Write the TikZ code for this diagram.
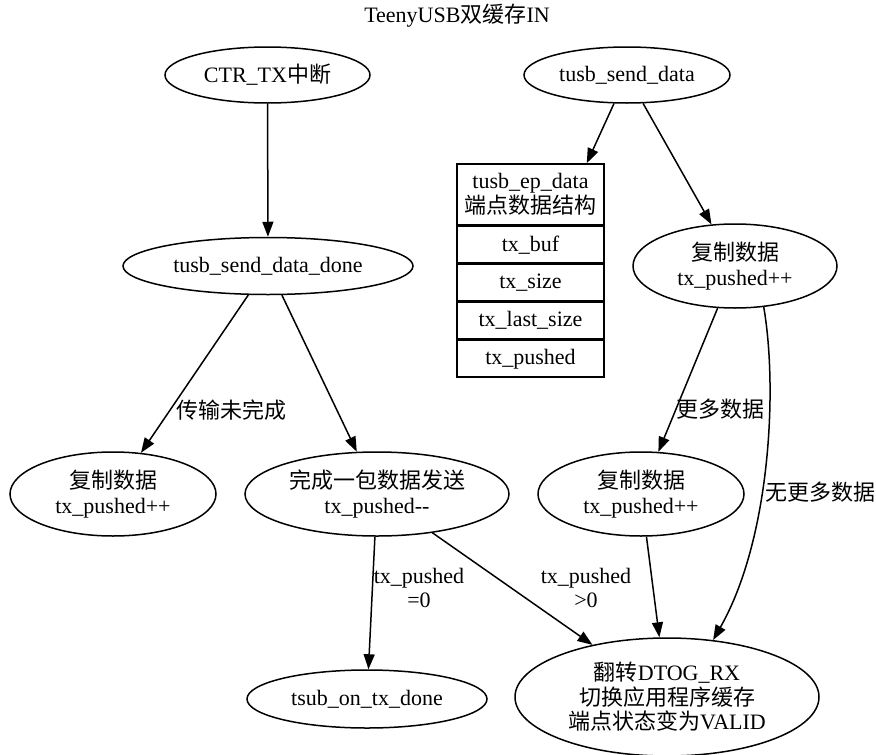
\documentclass[tikz,border=0pt]{standalone}
\usepackage{fontspec}
\setmainfont{Liberation Serif}
\newfontfamily\cjk{Noto Sans CJK SC}
\newcommand\zh[1]{{\cjk #1}}
\usetikzlibrary{shapes.geometric,arrows.meta}
\begin{document}
\begin{tikzpicture}[x=1pt,y=-1pt,
  every node/.style={font=\fontsize{22}{24.5}\selectfont, inner sep=0pt, align=center},
  oval/.style={draw, ellipse, line width=1.5pt},
  field/.style={draw, rectangle, line width=1.5pt, minimum width=147pt},
  edge/.style={line width=1.5pt, -{Triangle[length=15pt,width=11pt]}}]
\useasboundingbox (0,0) rectangle (876,755);

% title
\node (title) at (457,16) {TeenyUSB\zh{双缓存}IN};

% states
\node[oval, minimum width=205pt, minimum height=56pt] (ctr) at (267.5,75) {CTR\_TX\zh{中断}};
\node[oval, minimum width=206pt, minimum height=56pt] (send) at (627,75) {tusb\_send\_data};
\node[oval, minimum width=290pt, minimum height=57pt] (done) at (268,266) {tusb\_send\_data\_done};
\node[oval, minimum width=204pt, minimum height=84pt] (copyA) at (735,266) {\zh{复制数据}\\tx\_pushed++};
\node[oval, minimum width=206pt, minimum height=84pt] (copyL) at (113,494) {\zh{复制数据}\\tx\_pushed++};
\node[oval, minimum width=264pt, minimum height=84pt] (sent) at (377,494) {\zh{完成一包数据发送}\\tx\_pushed-{}-};
\node[oval, minimum width=206pt, minimum height=84pt] (copyM) at (641,494) {\zh{复制数据}\\tx\_pushed++};
\node[oval, minimum width=240pt, minimum height=58pt] (txdone) at (367,699) {tsub\_on\_tx\_done};
\node[oval, minimum width=304pt, minimum height=118pt] (flip) at (667,697)
  {\zh{翻转}DTOG\_RX\\\zh{切换应用程序缓存}\\\zh{端点状态变为}VALID};

% endpoint data record
\node[field, minimum height=61pt] (rec) at (530.5,194.5) {tusb\_ep\_data\\\zh{端点数据结构}};
\node[field, minimum height=36.5pt, anchor=north] (buf) at (rec.south) {tx\_buf};
\node[field, minimum height=36.5pt, anchor=north] (size) at (buf.south) {tx\_size};
\node[field, minimum height=36.5pt, anchor=north] (last) at (size.south) {tx\_last\_size};
\node[field, minimum height=36.5pt, anchor=north] (pushed) at (last.south) {tx\_pushed};

% transitions
\draw[edge] (ctr) -- (done);
\draw[edge] (send) -- ([xshift=-18pt]rec.north east);
\draw[edge] (send) -- (copyA);
\draw[edge] (done) -- (copyL);
\draw[edge] (done) -- (sent);
\draw[edge] (copyA) -- (copyM);
\draw[edge] (copyA.-55) .. controls (778,390) and (770,540) .. (flip.51);
\draw[edge] (sent) -- (txdone);
\draw[edge] (sent) -- (flip);
\draw[edge] (copyM) -- (flip);

% transition labels
\node (l1) at (231,410) {\zh{传输未完成}};
\node (l2) at (720,409) {\zh{更多数据}};
\node (l3) at (820,492) {\zh{无更多数据}};
\node (l4) at (419,588) {tx\_pushed\\=0};
\node (l5) at (586,588) {tx\_pushed\\>0};
\end{tikzpicture}
\end{document}
